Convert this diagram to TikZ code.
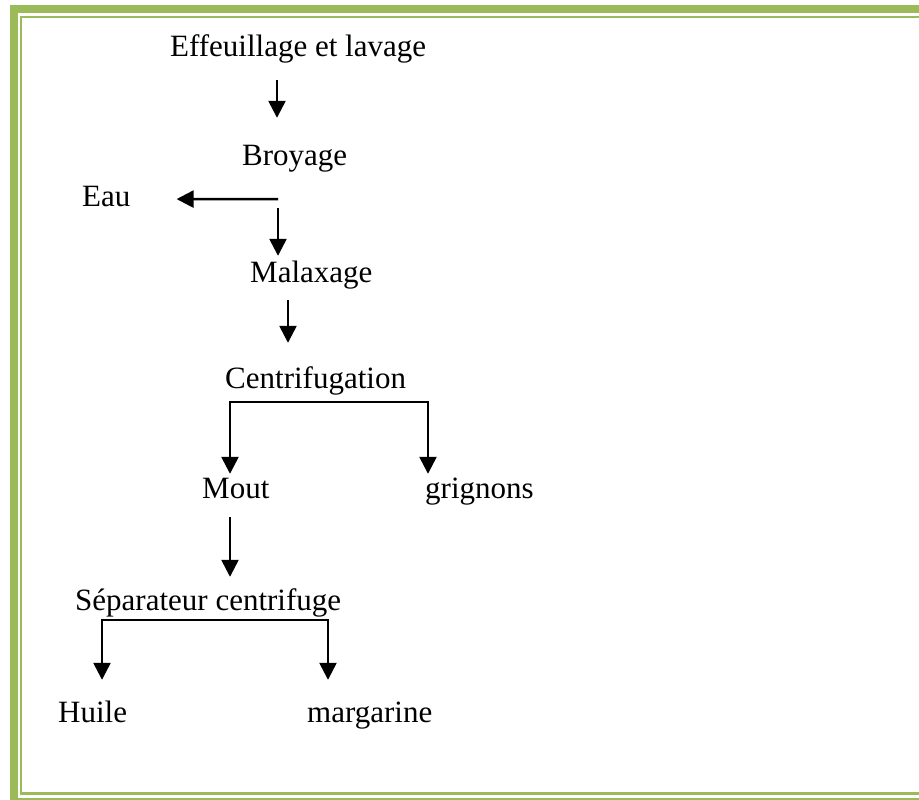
\documentclass[tikz,border=0pt]{standalone}
\usepackage{fontspec}
\setmainfont{Liberation Serif}
\usepackage{tikz}
\usetikzlibrary{arrows.meta}
\definecolor{frameg}{HTML}{9BBB59}

\begin{document}
\begin{tikzpicture}[
  x=1pt, y=-1pt,
  lbl/.style={anchor=base west, inner sep=0pt, text height=21pt, text depth=7pt,
    font=\fontsize{31}{37}\selectfont},
  arr/.style={-{Triangle[length=17pt, width=17pt]}, line width=2.5pt},
  both/.style={{Triangle[length=17pt, width=17pt]}-{Triangle[length=17pt, width=17pt]},
    line width=2.5pt, line join=miter}
]
\useasboundingbox (0,0) rectangle (919,800);
\clip (0,0) rectangle (919,800);
\draw[frameg, line width=8pt] (13.5,9) rectangle (934,802);
\draw[frameg, line width=2.5pt] (21,17) rectangle (925,793.5);

\node[lbl] (eff) at (170,57) {Effeuillage et lavage};
\node[lbl] (broy) at (242,165) {Broyage};
\node[lbl] (eau) at (82,206) {Eau};
\node[lbl] (malax) at (250,282) {Malaxage};
\node[lbl] (centri) at (225,388) {Centrifugation};
\node[lbl] (mout) at (202,498) {Mout};
\node[lbl] (grign) at (425,498) {grignons};
\node[lbl] (sep) at (75,610) {Séparateur centrifuge};
\node[lbl] (huile) at (58,722) {Huile};
\node[lbl] (marg) at (307,722) {margarine};

\draw[arr, shorten <=16pt, shorten >=26pt] ([xshift=107pt]eff.south west) -- ([xshift=35pt]broy.north west);
\draw[arr, shorten >=46pt] ([xshift=36pt, yshift=-27pt]broy.south west) -- (eau.east);
\draw[arr, shorten >=5pt] ([xshift=36pt, yshift=-36pt]broy.south west) -- ([xshift=28pt]malax.north west);
\draw[arr, shorten <=11pt, shorten >=24pt] ([xshift=38pt]malax.south west) -- ([xshift=63pt]centri.north west);
\draw[both, shorten <=3pt, shorten >=3pt] ([xshift=28pt]mout.north west) |- ([yshift=-7pt]centri.south) -| ([xshift=3pt]grign.north west);
\draw[arr, shorten <=12pt, shorten >=12pt] ([xshift=28pt]mout.south west) -- ([xshift=155pt]sep.north west);
\draw[both, shorten <=21pt, shorten >=21pt] ([xshift=44pt]huile.north west) |- ([yshift=-3pt]sep.south) -| ([xshift=21pt]marg.north west);
\end{tikzpicture}
\end{document}
